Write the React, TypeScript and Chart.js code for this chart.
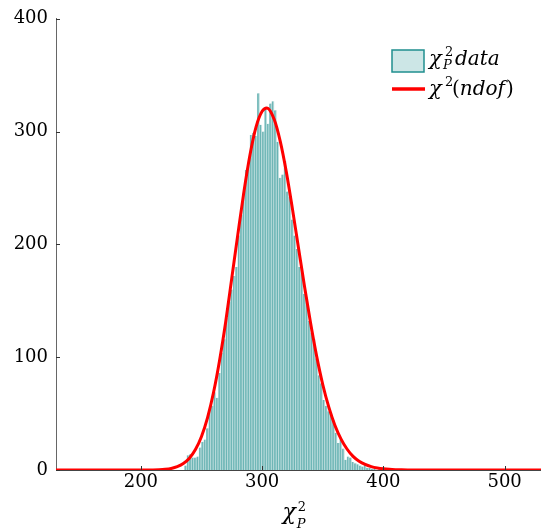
import React, { useEffect, useRef } from 'react';
import { Chart, registerables } from 'chart.js';
Chart.register(...registerables);

// Histogram bin centres (bin width 2) and counts
const binCenters = [
  237, 239, 241, 243, 245, 247, 249, 251, 253, 255, 257, 259, 261, 263, 265, 267, 269, 271, 273, 275,
  277, 279, 281, 283, 285, 287, 289, 291, 293, 295, 297, 299, 301, 303, 305, 307, 309, 311, 313, 315,
  317, 319, 321, 323, 325, 327, 329, 331, 333, 335, 337, 339, 341, 343, 345, 347, 349, 351, 353, 355,
  357, 359, 361, 363, 365, 367, 369, 371, 373, 375, 377, 379, 381, 383, 385, 387, 389, 391, 393, 395,
  397, 399, 401, 403,
];
const binCounts = [
  4, 13, 14, 11, 11, 12, 20, 25, 27, 37, 53, 57, 69, 64, 86, 104, 116, 135, 149, 160,
  172, 180, 208, 226, 246, 266, 272, 297, 299, 296, 334, 306, 300, 322, 307, 325, 327, 319, 291, 259,
  262, 274, 247, 242, 222, 208, 196, 180, 175, 156, 153, 132, 122, 116, 99, 84, 77, 62, 57, 52,
  50, 44, 33, 24, 27, 19, 9, 12, 11, 7, 6, 5, 4, 3, 6, 2, 2, 1, 1, 0,
  1, 2, 2, 1,
];

// Fitted chi^2(ndof) curve
const curveX = [
  130, 200, 210, 215, 220, 225, 230, 235, 240, 245, 250, 255, 260, 265, 270, 275, 280, 285, 290, 295,
  300, 304, 310, 315, 320, 325, 330, 335, 340, 345, 350, 355, 360, 365, 370, 375, 380, 385, 390, 395,
  400, 405, 410, 415, 420, 460, 530,
];
const curveY = [
  0, 0.02, 0.1, 0.26, 0.63, 1.39, 2.92, 5.68, 10.4, 18.1, 29.7, 46.5, 69.1, 97.8, 131.7, 170.3, 209.1, 246.8, 279.5, 304.2,
  318.0, 321.0, 310.7, 291.1, 264.0, 231.5, 196.9, 162.4, 130.0, 100.7, 75.8, 55.7, 39.7, 27.6, 18.6, 12.1, 7.8, 4.9, 3.0, 1.8,
  1.05, 0.6, 0.33, 0.18, 0.1, 0.01, 0,
];

const xTicks = [200, 300, 400, 500];
const yTicks = [0, 100, 200, 300, 400];

const SERIF = "'DejaVu Serif', serif";

export default function App() {
  const ref = useRef<HTMLCanvasElement>(null);

  useEffect(() => {
    if (!ref.current) return;

    const overlay = {
      id: 'overlay',
      afterDraw(chart: any) {
        const { ctx, chartArea } = chart;
        const xs = chart.scales.x;
        const ys = chart.scales.y;
        ctx.save();
        // inward tick marks
        ctx.strokeStyle = '#333';
        ctx.lineWidth = 1;
        xTicks.forEach((v) => {
          const px = Math.round(xs.getPixelForValue(v)) + 0.5;
          ctx.beginPath();
          ctx.moveTo(px, chartArea.bottom);
          ctx.lineTo(px, chartArea.bottom - 4);
          ctx.stroke();
        });
        yTicks.forEach((v) => {
          const py = Math.round(ys.getPixelForValue(v)) + 0.5;
          ctx.beginPath();
          ctx.moveTo(chartArea.left, py);
          ctx.lineTo(chartArea.left + 4, py);
          ctx.stroke();
        });

        ctx.textBaseline = 'alphabetic';
        ctx.textAlign = 'left';
        const it = (s: number) => `italic ${s}px ${SERIF}`;
        const up = (s: number) => `${s}px ${SERIF}`;

        // legend: histogram box
        ctx.fillStyle = 'rgba(0,128,128,0.2)';
        ctx.fillRect(392, 50, 32, 22);
        ctx.strokeStyle = '#1f8f8f';
        ctx.lineWidth = 1.5;
        ctx.strokeRect(392, 50, 32, 22);
        // legend: red line
        ctx.strokeStyle = '#ff0000';
        ctx.lineWidth = 3.5;
        ctx.beginPath();
        ctx.moveTo(392, 89);
        ctx.lineTo(425, 89);
        ctx.stroke();

        ctx.fillStyle = '#000';
        // row 1: chi^2_P data
        ctx.font = it(21);
        ctx.fillText('χ', 429, 65);
        ctx.font = up(13);
        ctx.fillText('2', 445, 56);
        ctx.font = it(13);
        ctx.fillText('P', 443, 69);
        ctx.font = it(20);
        ctx.fillText('data', 455, 65);

        // row 2: chi^2(ndof)
        ctx.font = it(21);
        ctx.fillText('χ', 429, 95);
        ctx.font = up(13);
        ctx.fillText('2', 445, 86);
        let cx = 452;
        ctx.font = up(20);
        ctx.fillText('(', cx, 95);
        cx += ctx.measureText('(').width;
        ctx.font = it(20);
        ctx.fillText('ndof', cx, 95);
        cx += ctx.measureText('ndof').width + 1;
        ctx.font = up(20);
        ctx.fillText(')', cx, 95);

        // x axis title: chi^2_P
        const mid = (chartArea.left + chartArea.right) / 2;
        ctx.font = it(22);
        const chiW = ctx.measureText('χ').width;
        const x0 = mid - 16;
        ctx.fillText('χ', x0, 519);
        ctx.font = up(13);
        ctx.fillText('2', x0 + chiW + 2, 511);
        ctx.font = it(13);
        ctx.fillText('P', x0 + chiW + 1, 528);
        ctx.restore();
      },
    };

    const chart = new Chart(ref.current, {
      type: 'bar',
      data: {
        datasets: [
          {
            type: 'line',
            data: curveX.map((x, i) => ({ x, y: curveY[i] })),
            borderColor: '#ff0000',
            borderWidth: 3,
            pointRadius: 0,
            cubicInterpolationMode: 'monotone',
            fill: false,
            order: 0,
          } as any,
          {
            type: 'bar',
            data: binCenters.map((x, i) => ({ x, y: binCounts[i] })),
            backgroundColor: 'rgba(0,128,128,0.26)',
            borderColor: 'rgba(0,128,128,0.5)',
            borderWidth: { left: 1, right: 0, top: 0, bottom: 0 },
            borderSkipped: false,
            barPercentage: 1,
            categoryPercentage: 1,
            order: 1,
          } as any,
        ],
      },
      options: {
        responsive: false,
        animation: false,
        events: [],
        layout: { padding: { top: 17, left: 0, right: 0, bottom: 0 } },
        plugins: { legend: { display: false }, tooltip: { enabled: false } },
        scales: {
          x: {
            type: 'linear',
            min: 130,
            max: 530,
            offset: false,
            grid: { display: false, drawTicks: false },
            border: { display: true, color: '#444', width: 1 },
            afterBuildTicks: (scale: any) => {
              scale.ticks = xTicks.map((v) => ({ value: v }));
            },
            afterFit: (scale: any) => {
              scale.height = 59;
            },
            ticks: {
              color: '#000',
              font: { family: SERIF, size: 18 },
              padding: 2,
              maxRotation: 0,
              autoSkip: false,
            },
          },
          y: {
            type: 'linear',
            min: 0,
            max: 400,
            grid: { display: false, drawTicks: false },
            border: { display: true, color: '#666', width: 1 },
            afterBuildTicks: (scale: any) => {
              scale.ticks = yTicks.map((v) => ({ value: v }));
            },
            afterFit: (scale: any) => {
              scale.width = 56;
            },
            ticks: {
              color: '#000',
              font: { family: SERIF, size: 18 },
              padding: 8,
            },
          },
        },
      },
      plugins: [overlay],
    } as any);

    return () => chart.destroy();
  }, []);

  return (
    <div style={{ position: 'fixed', left: 0, top: 0, width: 541, height: 529, background: '#fff' }}>
      <canvas ref={ref} width={541} height={529} style={{ display: 'block' }} />
    </div>
  );
}
